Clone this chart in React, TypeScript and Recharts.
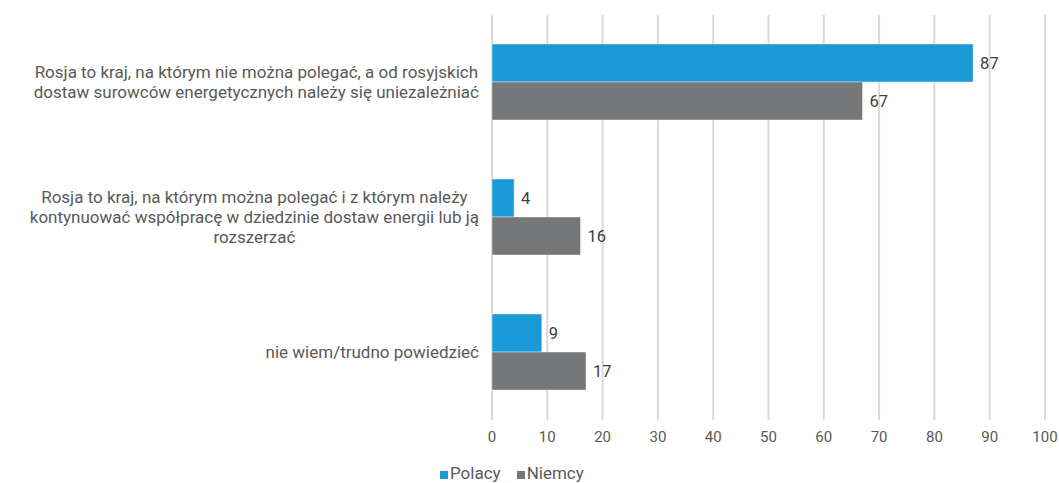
import React from "react";
import { BarChart, Bar, XAxis, YAxis, CartesianGrid, LabelList, Legend } from "recharts";

// answers (line breaks as in the original chart)
const categories = [
  "Rosja to kraj, na którym nie można polegać, a od rosyjskich\ndostaw surowców energetycznych należy się uniezależniać",
  "Rosja to kraj, na którym można polegać i z którym należy\nkontynuować współpracę w dziedzinie dostaw energii lub ją\nrozszerzać",
  "nie wiem/trudno powiedzieć",
];
const polacy = [87, 4, 9];
const niemcy = [67, 16, 17];
const xTicks = [0, 10, 20, 30, 40, 50, 60, 70, 80, 90, 100];

const BLUE = "#1a9ad6";
const GRAY = "#757779";
const TEXT = "#595959";
const FONT = "Roboto, 'Noto Sans', sans-serif";
const LABEL_RIGHT = 479;
const CAT_SIZE = 17;

const data = categories.map((name, i) => ({ name, polacy: polacy[i], niemcy: niemcy[i] }));

let ctx: CanvasRenderingContext2D | null = null;
const measure = (s: string) => {
  if (!ctx) ctx = document.createElement("canvas").getContext("2d");
  if (!ctx) return s.length * 8;
  ctx.font = `${CAT_SIZE}px ${FONT}`;
  return ctx.measureText(s).width;
};

const CategoryTick = (props: any) => {
  const { y, payload } = props;
  const lines = String(payload.value).split("\n");
  const block = Math.max(...lines.map(measure));
  const cx = LABEL_RIGHT - block / 2;
  const lh = 20;
  const y0 = y - ((lines.length - 1) * lh) / 2;
  return (
    <text textAnchor="middle" fill={TEXT} fontSize={CAT_SIZE} fontFamily={FONT}>
      {lines.map((l, i) => (
        <tspan key={i} x={cx} y={y0 + i * lh} dy="0.35em">
          {l}
        </tspan>
      ))}
    </text>
  );
};

const LegendContent = () => (
  <div style={{ fontFamily: FONT, fontSize: 17, color: TEXT, display: "flex", gap: 16, paddingLeft: 440, lineHeight: "20px" }}>
    {[
      ["Polacy", BLUE],
      ["Niemcy", GRAY],
    ].map(([label, color]) => (
      <span key={label} style={{ display: "flex", alignItems: "center" }}>
        <span style={{ width: 8, height: 8, background: color, display: "inline-block", marginRight: 2, marginTop: 3 }} />
        {label}
      </span>
    ))}
  </div>
);

export default function App() {
  return (
    <div style={{ position: "absolute", left: 0, top: 0, background: "#fff" }}>
      <BarChart
        width={1059}
        height={483}
        data={data}
        layout="vertical"
        margin={{ top: 15, right: 14, left: 0, bottom: 33 }}
        barGap={0}
        barCategoryGap="21.5%"
      >
        <CartesianGrid horizontal={false} stroke="#d9d9d9" strokeWidth={2} />
        <XAxis
          type="number"
          domain={[0, 100]}
          ticks={xTicks}
          axisLine={false}
          tickLine={false}
          height={30}
          tick={{ fill: TEXT, fontSize: 15, fontFamily: FONT }}
          tickMargin={5}
        />
        <YAxis
          type="category"
          dataKey="name"
          width={492}
          axisLine={false}
          tickLine={false}
          tick={<CategoryTick />}
        />
        <Bar dataKey="polacy" name="Polacy" fill={BLUE} stroke="#ffffff" strokeOpacity={0.4} isAnimationActive={false}>
          <LabelList dataKey="polacy" position="right" offset={7} fill="#404040" fontSize={16.5} fontFamily={FONT} />
        </Bar>
        <Bar dataKey="niemcy" name="Niemcy" fill={GRAY} stroke="#ffffff" strokeOpacity={0.4} isAnimationActive={false}>
          <LabelList dataKey="niemcy" position="right" offset={7} fill="#404040" fontSize={16.5} fontFamily={FONT} />
        </Bar>
        <Legend
          verticalAlign="middle"
          align="center"
          content={<LegendContent />}
          wrapperStyle={{ top: 463, left: 0, width: 1059 }}
        />
      </BarChart>
    </div>
  );
}
